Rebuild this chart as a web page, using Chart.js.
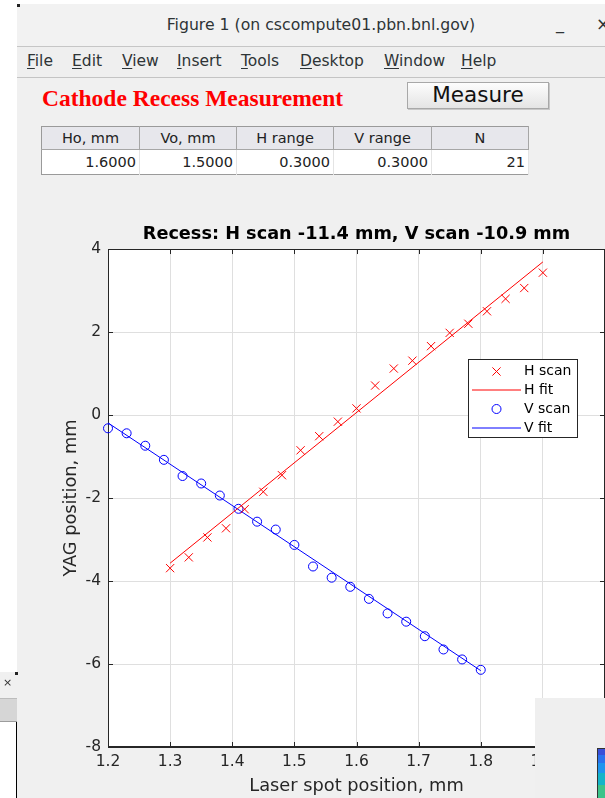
<!DOCTYPE html>
<html>
<head>
<meta charset="utf-8">
<script src="https://cdn.jsdelivr.net/npm/chart.js@4.4.1/dist/chart.umd.min.js"></script>
<style>
  body { margin: 0; width: 605px; height: 798px; overflow: hidden; background: #fff; position: relative; font-family: "DejaVu Sans", sans-serif; }
  .abs { position: absolute; }
  #win { left: 17px; top: 4px; width: 600px; height: 800px; background: #f0f0f0; }
  #titlebar { left: 17px; top: 4px; width: 600px; height: 42px; background: #f2f2f2; border-bottom: 1px solid #c6c6c6; }
  #wintitle { left: 17px; width: 608px; top: 15px; text-align: center; font-size: 15.7px; color: #2e3436; }
  #menubar { left: 17px; top: 47px; width: 600px; height: 30px; background: #efefef; border-bottom: 1px solid #c4c4c4; }
  .menu { top: 52px; font-size: 15.5px; color: #2e3436; }
  .menu u { text-decoration: underline; text-underline-offset: 2px; }
  #apptitle { left: 42px; top: 85px; font-family: "Liberation Serif", serif; font-weight: bold; font-size: 23.5px; color: #ff0000; }
  #measure { left: 407px; top: 82px; width: 140px; height: 25px; border: 1px solid #a8a8a8; background: linear-gradient(#fdfdfd, #e4e4e4); box-shadow: 1px 1px 0 #c8c8c8; text-align: center; font-size: 21.5px; line-height: 24px; color: #111; }
  #tbl { left: 41px; top: 126px; border-collapse: collapse; border: 1px solid #9a9a9a; background: #fff; font-size: 14.5px; color: #222; table-layout: fixed; }
  #tbl th { font-weight: normal; background: #e7e7ec; height: 22px; padding: 0; border-right: 1px solid #a6a6a6; border-bottom: 1px solid #a6a6a6; }
  #tbl td { height: 24px; padding: 0 3px 0 0; text-align: right; border-right: 1px solid #e4e4e4; }
  #plot { left: 17px; top: 205px; }
  #legend { left: 468px; top: 359px; width: 108px; height: 77px; border: 1px solid #262626; background: #fff; font-size: 14px; color: #000; }
  #legsym { left: 0; top: 0; }
  .lg { position: absolute; left: 55px; }
  #ovr { left: 535px; top: 698px; width: 70px; height: 100px; background: #efefef; }
  #cmap { left: 597px; top: 748px; width: 8px; height: 50px; border: 1px solid #333; border-right: none;
          background: linear-gradient(#3a4fd8 0 6px, #2a72ee 6px 14px, #1e95ee 14px 24px, #14b4c8 24px 36px, #3cc38a 36px); }
  #sw { left: 0; top: 672px; width: 17px; height: 126px; background: #f0f0f0; }
  #swbar { left: 0; top: 698px; width: 17px; height: 22px; background: #d6d6d6; border-top: 1px solid #bcbcbc; border-bottom: 1px solid #9c9c9c; }
  #swbody { left: 0; top: 722px; width: 16px; height: 76px; background: #fff; border-right: 1px solid #000; }
  .corner { width: 3px; height: 3px; background: #222; }
</style>
</head>
<body>
<div id="win" class="abs"></div>
<div id="titlebar" class="abs"></div>
<div class="abs corner" style="left:17px;top:4px"></div>
<div id="wintitle" class="abs">Figure 1 (on cscompute01.pbn.bnl.gov)</div>
<div class="abs" style="left:556px;top:14px;font-size:16px;color:#2e3436;">_</div>
<div class="abs" style="left:596px;top:14px;font-size:17px;color:#2e3436;">×</div>
<div id="menubar" class="abs"></div>
<div class="abs menu" style="left:27px"><u>F</u>ile</div>
<div class="abs menu" style="left:72px"><u>E</u>dit</div>
<div class="abs menu" style="left:122px"><u>V</u>iew</div>
<div class="abs menu" style="left:177px"><u>I</u>nsert</div>
<div class="abs menu" style="left:241px"><u>T</u>ools</div>
<div class="abs menu" style="left:300px"><u>D</u>esktop</div>
<div class="abs menu" style="left:384px"><u>W</u>indow</div>
<div class="abs menu" style="left:461px"><u>H</u>elp</div>
<div id="apptitle" class="abs">Cathode Recess Measurement</div>
<div id="measure" class="abs">Measure</div>
<table id="tbl" class="abs">
  <colgroup><col style="width:98px"><col style="width:97px"><col style="width:97px"><col style="width:98px"><col style="width:97px"></colgroup>
  <tr id="thead"></tr>
  <tr id="trow"></tr>
</table>

<canvas id="plot" class="abs" width="588" height="593"></canvas>

<div id="legend" class="abs">
  <canvas id="legsym" class="abs" width="108" height="77"></canvas>
  <div class="lg" style="top:2px">H scan</div>
  <div class="lg" style="top:21px">H fit</div>
  <div class="lg" style="top:40px">V scan</div>
  <div class="lg" style="top:59px">V fit</div>
</div>

<div id="ovr" class="abs"></div>
<div id="cmap" class="abs"></div>
<div id="sw" class="abs"></div>
<div class="abs corner" style="left:15px;top:672px"></div>
<div class="abs" style="left:3px;top:676px;font-size:11px;color:#333;">×</div>
<div id="swbar" class="abs"></div>
<div id="swbody" class="abs"></div>

<script>
// table in the figure
const tableHeads = ['Ho, mm', 'Vo, mm', 'H range', 'V range', 'N'];
const tableVals = ['1.6000', '1.5000', '0.3000', '0.3000', '21'];

// H scan (red x) and its linear fit
const hScanX = [1.30, 1.33, 1.36, 1.39, 1.42, 1.45, 1.48, 1.51, 1.54, 1.57, 1.60,
                1.63, 1.66, 1.69, 1.72, 1.75, 1.78, 1.81, 1.84, 1.87, 1.90];
const hScanY = [-3.69, -3.43, -2.95, -2.73, -2.27, -1.85, -1.45, -0.85, -0.51, -0.16, 0.16,
                0.71, 1.12, 1.31, 1.66, 1.98, 2.20, 2.50, 2.80, 3.06, 3.43];
const hFitX = [1.30, 1.90];
const hFitY = [-3.57, 3.69];

// V scan (blue o) and its linear fit
const vScanX = [1.20, 1.23, 1.26, 1.29, 1.32, 1.35, 1.38, 1.41, 1.44, 1.47, 1.50,
                1.53, 1.56, 1.59, 1.62, 1.65, 1.68, 1.71, 1.74, 1.77, 1.80];
const vScanY = [-0.32, -0.44, -0.74, -1.08, -1.47, -1.65, -1.94, -2.26, -2.57, -2.76, -3.13,
                -3.65, -3.92, -4.14, -4.43, -4.78, -4.98, -5.33, -5.65, -5.89, -6.14];
const vFitX = [1.20, 1.80];
const vFitY = [-0.19, -6.16];

const xTicks = [1.2, 1.3, 1.4, 1.5, 1.6, 1.7, 1.8, 1.9, 2];
const yTicks = [-8, -6, -4, -2, 0, 2, 4];

document.getElementById('thead').innerHTML = tableHeads.map(h => '<th>' + h + '</th>').join('');
document.getElementById('trow').innerHTML = tableVals.map(v => '<td>' + v + '</td>').join('');

function pts(xs, ys) {
    return xs.map((x, i) => ({x: x, y: ys[i]}));
}

const axisCol = '#262626';
const hCol = '#ff0000';
const vCol = '#0000ff';

// white axes background
const axesBg = {
    id: 'axesBg',
    beforeDraw(chart) {
        const a = chart.chartArea;
        chart.ctx.save();
        chart.ctx.fillStyle = '#fff';
        chart.ctx.fillRect(a.left, a.top, a.right - a.left, a.bottom - a.top);
        chart.ctx.restore();
    }
};

// matlab style box with inward ticks on all four sides
const axesBox = {
    id: 'axesBox',
    beforeDatasetsDraw(chart) {
        const a = chart.chartArea;
        const ctx = chart.ctx;
        const len = 5;
        ctx.save();
        ctx.strokeStyle = axisCol;
        ctx.lineWidth = 1;
        ctx.strokeRect(Math.round(a.left) + 0.5, Math.round(a.top) + 0.5,
                       Math.round(a.right - a.left) - 1, Math.round(a.bottom - a.top) - 1);
        ctx.beginPath();
        chart.scales.x.ticks.forEach(t => {
            const px = Math.round(chart.scales.x.getPixelForValue(t.value)) + 0.5;
            ctx.moveTo(px, a.bottom); ctx.lineTo(px, a.bottom - len);
            ctx.moveTo(px, a.top); ctx.lineTo(px, a.top + len);
        });
        chart.scales.y.ticks.forEach(t => {
            const py = Math.round(chart.scales.y.getPixelForValue(t.value)) + 0.5;
            ctx.moveTo(a.left, py); ctx.lineTo(a.left + len, py);
            ctx.moveTo(a.right, py); ctx.lineTo(a.right - len, py);
        });
        ctx.stroke();
        ctx.restore();
    }
};

const config = {
    type: 'scatter',
    data: {
        datasets: [
            {
                label: 'H scan',
                data: pts(hScanX, hScanY),
                pointStyle: 'crossRot',
                pointRadius: 5.8,
                borderColor: hCol,
                borderWidth: 1,
                clip: false
            },
            {
                label: 'H fit',
                data: pts(hFitX, hFitY),
                showLine: true,
                pointRadius: 0,
                borderColor: hCol,
                borderWidth: 1
            },
            {
                label: 'V scan',
                data: pts(vScanX, vScanY),
                pointStyle: 'circle',
                pointRadius: 4.5,
                borderColor: vCol,
                backgroundColor: 'rgba(0,0,0,0)',
                borderWidth: 1,
                clip: false
            },
            {
                label: 'V fit',
                data: pts(vFitX, vFitY),
                showLine: true,
                pointRadius: 0,
                borderColor: vCol,
                borderWidth: 1
            }
        ]
    },
    options: {
        responsive: false,
        animation: false,
        events: [],
        layout: { padding: 0, autoPadding: false },
        plugins: {
            legend: { display: false },
            tooltip: { enabled: false },
            title: {
                display: true,
                fullSize: false,
                text: 'Recess: H scan -11.4 mm, V scan -10.9 mm',
                color: '#000',
                font: { family: 'DejaVu Sans', size: 17.7, weight: 'bold' },
                padding: { top: 19, bottom: 3.8 }
            }
        },
        scales: {
            x: {
                type: 'linear',
                min: 1.2,
                max: 2.0,
                afterBuildTicks: s => { s.ticks = xTicks.map(v => ({value: v})); },
                afterFit: s => { s.height = 51; s.paddingLeft = 0; s.paddingRight = 0; },
                grid: { color: '#dfdfdf', drawTicks: false },
                border: { display: true, color: axisCol },
                ticks: {
                    padding: 6,
                    color: axisCol,
                    font: { family: 'DejaVu Sans', size: 15.5 },
                    maxRotation: 0,
                    autoSkip: false,
                    callback: v => String(Number(v.toFixed(1)))
                },
                title: {
                    display: true,
                    text: 'Laser spot position, mm',
                    color: axisCol,
                    font: { family: 'DejaVu Sans', size: 17.8 },
                    padding: { top: 0, bottom: 0.5 }
                }
            },
            y: {
                type: 'linear',
                min: -8,
                max: 4,
                afterBuildTicks: s => { s.ticks = yTicks.map(v => ({value: v})); },
                afterFit: s => { s.width = 91; s.paddingTop = 0; s.paddingBottom = 0; },
                grid: { color: '#dfdfdf', drawTicks: false },
                border: { display: true, color: axisCol },
                ticks: {
                    padding: 7,
                    color: axisCol,
                    font: { family: 'DejaVu Sans', size: 15.5 },
                    autoSkip: false,
                    callback: v => String(v)
                },
                title: {
                    display: true,
                    text: 'YAG position, mm',
                    color: axisCol,
                    font: { family: 'DejaVu Sans', size: 17.8 },
                    padding: { top: 43.3, bottom: 0 }
                }
            }
        }
    },
    plugins: [axesBg, axesBox]
};

const plot = new Chart(document.getElementById('plot'), config);

// legend symbols, same marker drawing as the chart
const lctx = document.getElementById('legsym').getContext('2d');
lctx.lineWidth = 1;
lctx.strokeStyle = hCol;
Chart.helpers.drawPoint(lctx, {pointStyle: 'crossRot', radius: 5.8, borderWidth: 1}, 27.5, 11.5);
lctx.beginPath(); lctx.moveTo(3, 30); lctx.lineTo(52, 30); lctx.stroke();
lctx.strokeStyle = vCol;
lctx.fillStyle = 'rgba(0,0,0,0)';
Chart.helpers.drawPoint(lctx, {pointStyle: 'circle', radius: 4.5, borderWidth: 1}, 27.5, 49);
lctx.beginPath(); lctx.moveTo(3, 68); lctx.lineTo(52, 68); lctx.stroke();
</script>
</body>
</html>
